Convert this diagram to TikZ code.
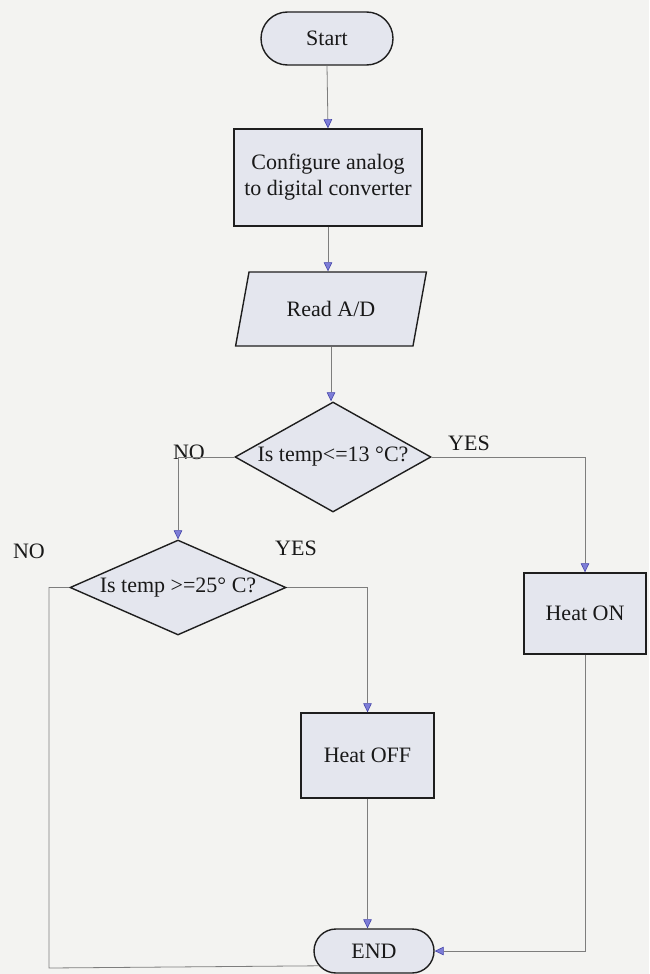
\documentclass[tikz,border=0pt]{standalone}
\usepackage{fontspec}
\setmainfont{Liberation Serif}
\usetikzlibrary{shapes.geometric,shapes.misc,arrows.meta}
\definecolor{paper}{RGB}{243,243,241}
\definecolor{boxfill}{RGB}{228,230,238}
\definecolor{edge}{RGB}{30,30,30}
\definecolor{wire}{RGB}{125,125,125}
\definecolor{tipfill}{RGB}{125,125,215}
\definecolor{tipedge}{RGB}{70,70,170}
\begin{document}
\begin{tikzpicture}[x=1pt,y=-1pt,
  txt/.style={font=\fontsize{22}{26}\selectfont, text=black!90},
  shapebase/.style={txt, draw=edge, line width=1.4pt, fill=boxfill, inner sep=1pt},
  terminal/.style={shapebase, rounded rectangle},
  process/.style={shapebase, rectangle, align=center},
  inout/.style={shapebase, trapezium, trapezium left angle=67, trapezium right angle=113,
                trapezium stretches=true},
  decision/.style={shapebase, diamond},
  branchtxt/.style={txt, inner sep=0pt},
  flow/.style={draw=wire, line width=0.8pt,
               -{Triangle[length=9pt,width=8.5pt,fill=tipfill,color=tipedge,line width=0.6pt]}},
  plainflow/.style={draw=wire, line width=0.8pt}
]
% page
\fill[paper] (0,0) rectangle (649,974);
\useasboundingbox (0,0) rectangle (649,974);

% nodes
\node[terminal, minimum width=134pt, minimum height=53pt] (start) at (327,38.5) {Start};
\node[process, minimum width=188pt, minimum height=97pt] (adc) at (328,177.5)
  {Configure analog\\to digital converter};
\node[inout, minimum width=191pt, minimum height=74pt] (read) at (331,309) {Read A/D};
\node[decision, aspect=1.78, minimum width=196pt, minimum height=110pt] (low) at (333,457)
  {Is temp<=13 °C?};
\node[decision, aspect=2.27, minimum width=216pt, minimum height=95pt] (high) at (178,587.5)
  {Is temp >=25° C?};
\node[process, minimum width=122pt, minimum height=81pt] (heaton) at (585,613.5) {Heat ON};
\node[process, minimum width=133pt, minimum height=85pt] (heatoff) at (367.5,755.5) {Heat OFF};
\node[terminal, minimum width=122pt, minimum height=44pt] (stop) at (374,951) {END};

% branch labels
\node[branchtxt] (no1) at (189,452) {NO};
\node[branchtxt] (yes1) at (469,443) {YES};
\node[branchtxt] (no2) at (29,551) {NO};
\node[branchtxt] (yes2) at (296,548) {YES};

\coordinate (nocorner) at (49,968);

% connectors
\draw[flow] (start.south) -- (adc.north);
\draw[flow] (adc.south) -- (adc.south |- read.north);
\draw[flow] (read.south) -- (read.south |- low.north);
\draw[flow] (low.west) -| (high.north);
\draw[flow] (low.east) -| (heaton.north);
\draw[flow] (high.east) -| (heatoff.north);
\draw[flow] (heatoff.south) -- (heatoff.south |- stop.north);
\draw[flow] (heaton.south) |- (stop.east);
\draw[plainflow] (high.west) -| (nocorner) -- (stop.195);
\end{tikzpicture}
\end{document}
